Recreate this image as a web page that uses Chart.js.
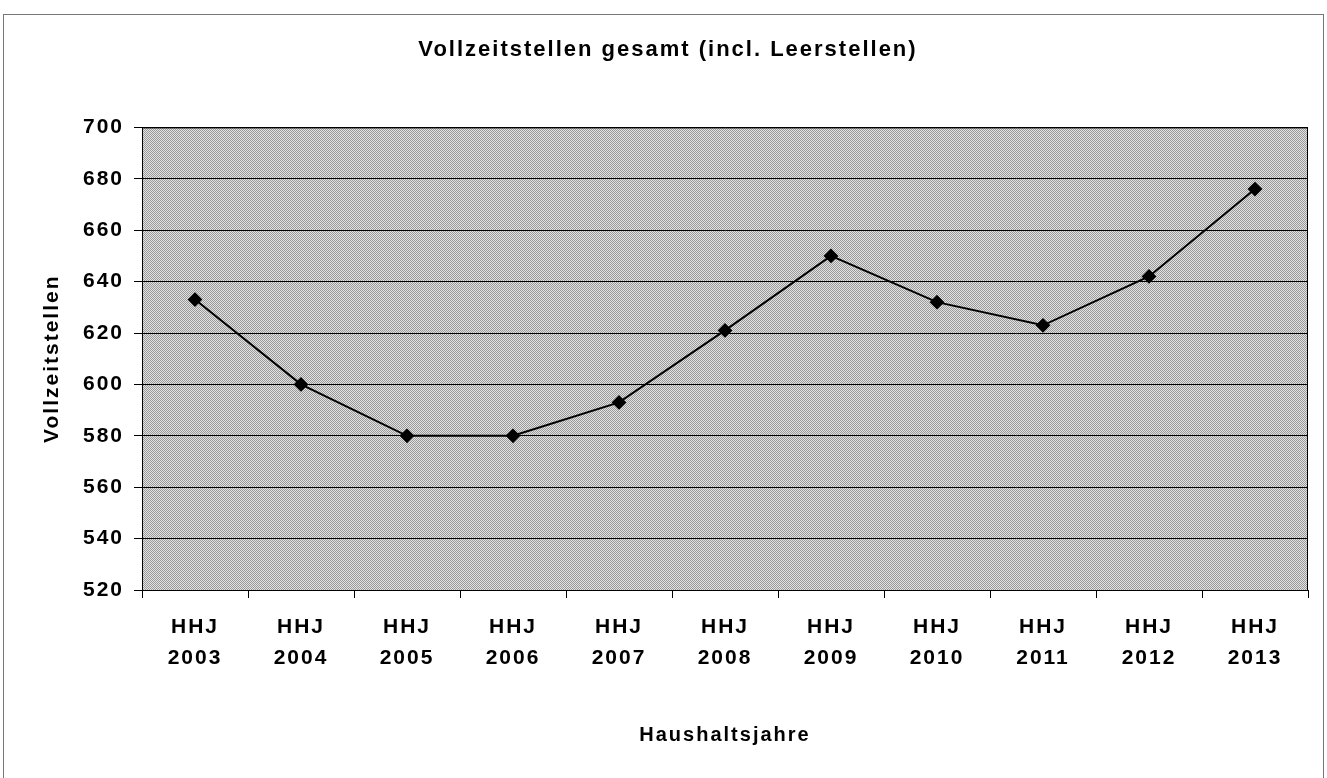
<!DOCTYPE html>
<html>
<head>
<meta charset="utf-8">
<script src="https://cdn.jsdelivr.net/npm/chart.js@4/dist/chart.umd.min.js"></script>
<style>
html, body { margin: 0; padding: 0; background: #fff; }
</style>
</head>
<body>
<canvas id="stellenChart" width="1327" height="778"></canvas>
<script>
// Daten
const years = ["2003", "2004", "2005", "2006", "2007", "2008", "2009", "2010", "2011", "2012", "2013"];
const vollzeitstellen = [633, 600, 580, 580, 593, 621, 650, 632, 623, 642, 676];
const yMin = 520;
const yMax = 700;
const yStep = 20;

const categories = years.map(y => ["HHJ", y]);
const fontFamily = "'Liberation Sans', Arial, sans-serif";
const spacing = "2px";

// grauer Rasterhintergrund wie im Scan
const patternCanvas = document.createElement("canvas");
patternCanvas.width = 4;
patternCanvas.height = 4;
const pctx = patternCanvas.getContext("2d");
pctx.fillStyle = "#e2e2e2";
pctx.fillRect(0, 0, 4, 4);
pctx.fillStyle = "#9a9a9a";
for (let x = 0; x < 4; x++) {
    for (let y = 0; y < 4; y++) {
        if ((x + y) % 2 === 0) pctx.fillRect(x, y, 1, 1);
    }
}

const backgroundPlugin = {
    id: "background",
    beforeInit(chart) {
        chart.ctx.letterSpacing = spacing;
    },
    beforeDraw(chart) {
        const ctx = chart.ctx;
        const area = chart.chartArea;
        ctx.letterSpacing = spacing;
        ctx.save();
        ctx.fillStyle = "#fff";
        ctx.fillRect(0, 0, chart.width, chart.height);
        // Rahmen um das Diagramm
        ctx.strokeStyle = "#777";
        ctx.lineWidth = 1;
        ctx.strokeRect(3.5, 14.5, chart.width - 7, chart.height + 20);
        // Zeichenfläche
        ctx.fillStyle = ctx.createPattern(patternCanvas, "repeat");
        ctx.fillRect(area.left, area.top, area.right - area.left, area.bottom - area.top);
        ctx.restore();
    },
    beforeDatasetsDraw(chart) {
        const ctx = chart.ctx;
        const area = chart.chartArea;
        ctx.save();
        ctx.strokeStyle = "#000";
        ctx.lineWidth = 1;
        ctx.strokeRect(area.left + 0.5, area.top + 0.5, area.right - area.left - 1, area.bottom - area.top);
        ctx.restore();
    }
};

const ctx = document.getElementById("stellenChart").getContext("2d");
const chart = new Chart(ctx, {
    type: "line",
    data: {
        labels: categories,
        datasets: [{
            label: "Vollzeitstellen",
            data: vollzeitstellen,
            borderColor: "#000",
            borderWidth: 2,
            backgroundColor: "#000",
            pointStyle: "rectRot",
            pointRadius: 6,
            pointBackgroundColor: "#000",
            pointBorderColor: "#000",
            tension: 0
        }]
    },
    options: {
        responsive: false,
        animation: false,
        layout: {
            padding: { left: 28, right: 19, top: 0, bottom: 0 }
        },
        plugins: {
            legend: { display: false },
            tooltip: { enabled: false },
            title: {
                display: true,
                text: "Vollzeitstellen gesamt (incl. Leerstellen)",
                color: "#000",
                font: { family: fontFamily, size: 22, weight: "bold" },
                padding: { top: 37, bottom: 64 }
            }
        },
        scales: {
            x: {
                type: "category",
                offset: true,
                grid: {
                    offset: true,
                    drawOnChartArea: false,
                    drawTicks: true,
                    tickLength: 8,
                    color: "#000"
                },
                border: { color: "#000", width: 1 },
                ticks: {
                    color: "#000",
                    font: { family: fontFamily, size: 21, weight: "bold", lineHeight: 1.48 },
                    padding: 14,
                    maxRotation: 0,
                    autoSkip: false
                },
                title: {
                    display: true,
                    text: "Haushaltsjahre",
                    color: "#000",
                    font: { family: fontFamily, size: 20, weight: "bold" },
                    padding: { top: 0, bottom: 31 }
                },
                afterFit(scale) { scale.height = 188; }
            },
            y: {
                min: yMin,
                max: yMax,
                grid: {
                    color: "#000",
                    lineWidth: 1,
                    drawTicks: true,
                    tickLength: 8
                },
                border: { color: "#000", width: 1 },
                ticks: {
                    stepSize: yStep,
                    color: "#000",
                    font: { family: fontFamily, size: 21, weight: "bold" },
                    padding: 10
                },
                title: {
                    display: true,
                    text: "Vollzeitstellen",
                    color: "#000",
                    font: { family: fontFamily, size: 21, weight: "bold" },
                    padding: { top: 12, bottom: 0 }
                },
                afterFit(scale) { scale.width = 114; }
            }
        }
    },
    plugins: [backgroundPlugin]
});
</script>
</body>
</html>
